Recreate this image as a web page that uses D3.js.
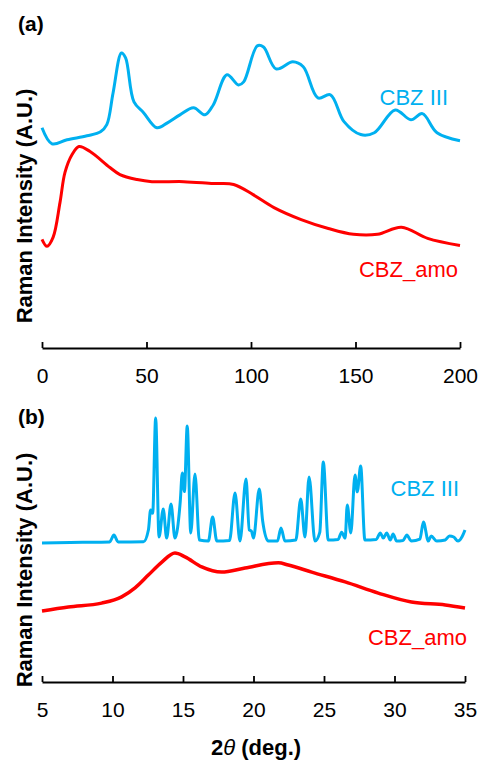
<!DOCTYPE html>
<html>
<head>
<meta charset="utf-8">
<script src="https://cdn.jsdelivr.net/npm/d3@7"></script>
<style>
  body { margin: 0; background: #fff; }
  svg { font-family: 'Liberation Sans', Arial, sans-serif; }
  .axis path, .axis line { stroke: #000; stroke-width: 1.8; }
  .axis text { font-size: 21px; fill: #000; }
</style>
</head>
<body>
<svg id="chart" width="479" height="760"></svg>
<script>
const BLUE = '#00b0f0'
const RED = '#ff0000'

/* (a) low-frequency Raman, [shift, intensity] */
const ramanTicks = [0, 50, 100, 150, 200]
const ramanCBZIII = [
  [0, 71.5], [4.8, 66.3], [12, 67.6], [21.5, 68.9], [28, 70.2], [31, 72.5], [34, 82.8],
  [38, 95.8], [40, 94.2], [44, 79.9], [48.6, 76.4], [55, 71.5], [60, 73.1], [66, 75.7],
  [72.5, 78.0], [78, 75.7], [82, 79.0], [88.5, 88.7], [94, 85.4], [96.5, 86.4], [103, 98.1],
  [106, 97.7], [112, 90.6], [120, 92.9], [125, 91.3], [132, 81.2], [138, 82.2], [144.5, 73.5],
  [152.5, 69.3], [159, 69.9], [169, 77.3], [176.5, 74.1], [182, 76.1], [189, 69.9], [200, 67.3]
]
const ramanAmo = [
  [0, 35.3], [2.4, 33.0], [5.3, 35.9], [8.6, 47.2], [11, 57.0], [14.4, 62.8], [17.7, 65.4],
  [23, 63.8], [32.5, 58.6], [37.3, 56.3], [45.5, 54.7], [52.6, 54.0], [67.8, 54.0], [82, 53.4],
  [91.7, 53.1], [101, 49.8], [111, 45.6], [124, 41.7], [137, 38.8], [149, 36.9], [160.5, 36.9],
  [172, 39.2], [184.5, 35.6], [200, 33.3]
]

/* (b) XRD, [2theta, intensity] */
const xrdTicks = [5, 10, 15, 20, 25, 30, 35]
const xrdCBZIII = [
  [5, 51.1], [7, 51.3], [9, 51.4], [9.8, 51.5], [10.1, 54.0], [10.4, 51.5], [12.2, 51.6],
  [12.55, 56], [12.7, 63.2], [12.85, 62], [13.06, 97.1], [13.3, 53.3], [13.6, 63.6], [13.84, 52.9],
  [14.15, 65.4], [14.43, 52.9], [14.8, 66], [14.95, 76.8], [15.1, 70], [15.3, 94.1], [15.55, 54.8],
  [15.85, 76.5], [16.16, 52.2], [16.8, 51.8], [17.1, 60.7], [17.4, 51.8], [18.3, 52], [18.69, 69.5],
  [19.04, 51.8], [19.47, 74.6], [19.7, 55.9], [19.85, 55.5], [20.0, 52.9], [20.41, 71.0], [20.65, 59.2],
  [21.05, 51.8], [21.7, 51.8], [21.95, 56.6], [22.23, 51.8], [23.0, 52.2], [23.35, 67.3], [23.65, 53.3],
  [23.94, 75.4], [24.36, 51.8], [24.7, 55], [24.95, 80.9], [25.3, 52.2], [26.0, 52.4], [26.25, 55.1],
  [26.5, 52.9], [26.65, 65.1], [26.9, 54.8], [27.2, 76.1], [27.36, 69.9], [27.6, 79.4], [27.9, 52.2],
  [28.7, 52.4], [29.0, 54.8], [29.2, 52.9], [29.45, 54.8], [29.7, 52.2], [29.9, 54.4], [30.15, 51.8],
  [30.6, 52], [30.87, 54.0], [31.2, 51.8], [31.8, 52.5], [32.05, 58.8], [32.4, 51.8], [32.6, 53.7],
  [33.0, 51.8], [33.6, 52.2], [33.9, 53.7], [34.2, 53.3], [34.5, 51.8], [34.8, 53.5], [35, 55.9]
]
const xrdAmo = [
  [5, 26.1], [6.87, 27.6], [9.23, 29.0], [10.65, 31.3], [11.6, 34.6], [12.54, 39.3], [13.5, 44.1],
  [14.43, 47.4], [15.14, 46.0], [16.33, 42.3], [17.74, 40.4], [19.4, 41.9], [21.76, 43.8],
  [22.47, 43.0], [24.13, 40.4], [26.5, 36.8], [28.85, 32.7], [31.2, 29.4], [33.6, 28.3], [35, 27.2]
]

const svg = d3.select('#chart')

/** Draw one panel: two traces, their labels and a bottom axis
  * @param {Object} p panel settings
  */
function drawPanel (p) {
  const x = d3.scaleLinear().domain(p.xDomain).range([42, p.xRight])
  const y = d3.scaleLinear().domain([0, 100]).range([p.axisY, p.top])
  const line = d3.line().x(d => x(d[0])).y(d => y(d[1])).curve(p.curve)
  const g = svg.append('g')

  p.series.forEach(s => {
    g.append('path').datum(s.data)
      .attr('fill', 'none')
      .attr('stroke', s.color)
      .attr('stroke-width', s.width || 3)
      .attr('stroke-linejoin', 'round')
      .attr('d', line)
    g.append('text')
      .attr('x', s.labelX).attr('y', s.labelY)
      .attr('text-anchor', 'end')
      .attr('font-size', 22)
      .attr('fill', s.color)
      .text(s.name)
  })

  g.append('g').attr('class', 'axis')
    .attr('transform', `translate(0,${p.axisY})`)
    .call(d3.axisBottom(x).tickValues(p.ticks).tickSizeInner(-6).tickSizeOuter(0).tickPadding(20))

  g.append('text')
    .attr('x', 18).attr('y', p.letterY)
    .attr('font-size', 21).attr('font-weight', 'bold')
    .text(p.letter)

  g.append('text')
    .attr('transform', `translate(32,${p.labelMid}) rotate(-90)`)
    .attr('text-anchor', 'middle')
    .attr('font-size', 22).attr('font-weight', 'bold')
    .text('Raman Intensity (A.U.)')
}

drawPanel({
  letter: '(a)', letterY: 31, labelMid: 206, curve: d3.curveCatmullRom,
  xDomain: [0, 200], xRight: 460, axisY: 348, top: 40, ticks: ramanTicks,
  series: [
    { name: 'CBZ III', data: ramanCBZIII, color: BLUE, labelX: 448, labelY: 105 },
    { name: 'CBZ_amo', data: ramanAmo, color: RED, labelX: 458, labelY: 277 }
  ]
})

drawPanel({
  letter: '(b)', letterY: 424, labelMid: 570, curve: d3.curveMonotoneX,
  xDomain: [5, 35], xRight: 465, axisY: 682, top: 410, ticks: xrdTicks,
  series: [
    { name: 'CBZ III', data: xrdCBZIII, color: BLUE, labelX: 459, labelY: 496 },
    { name: 'CBZ_amo', data: xrdAmo, color: RED, labelX: 467, labelY: 645, width: 3.5 }
  ]
})

const title = svg.append('text')
  .attr('x', 256).attr('y', 755)
  .attr('text-anchor', 'middle')
  .attr('font-size', 22).attr('font-weight', 'bold')
title.append('tspan').text('2')
title.append('tspan').attr('font-style', 'italic').attr('font-weight', 'normal').text('θ')
title.append('tspan').text(' (deg.)')
</script>
</body>
</html>
